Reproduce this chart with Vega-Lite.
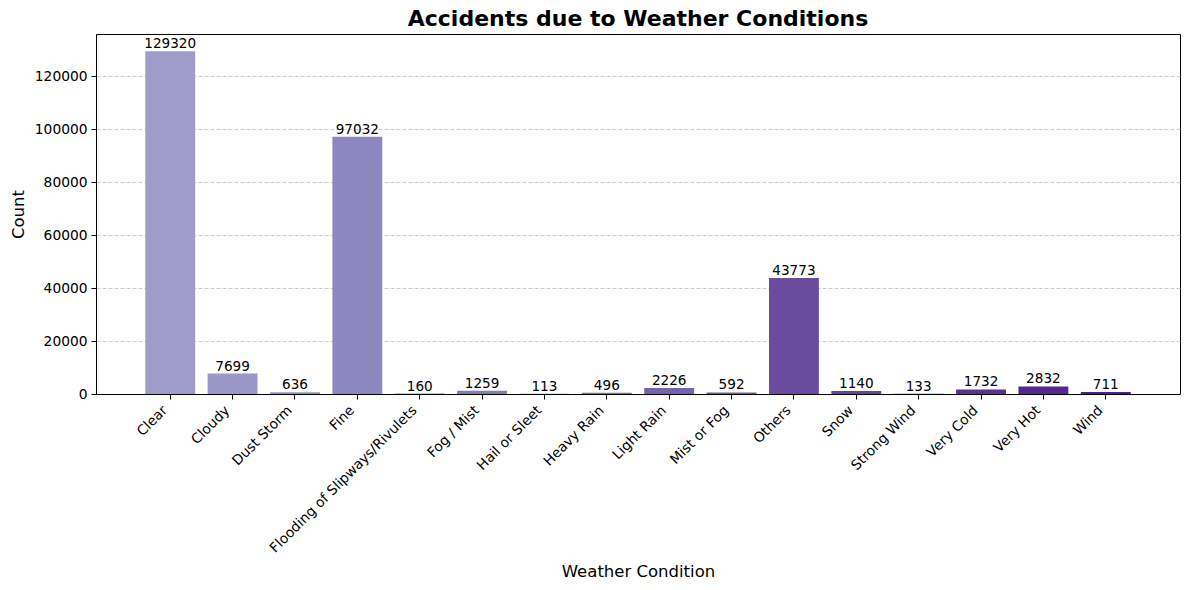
{
  "$schema": "https://vega.github.io/schema/vega-lite/v6.json",
  "autosize": {"type": "none"},
  "padding": {"left": 96, "top": 34, "right": 9, "bottom": 196},
  "width": 1084,
  "height": 360,
  "background": "white",
  "config": {
    "font": "DejaVu Sans",
    "view": {"stroke": "black", "strokeWidth": 1},
    "axis": {
      "labelFont": "DejaVu Sans",
      "titleFont": "DejaVu Sans",
      "labelFontSize": 13.8,
      "titleFontSize": 16.5,
      "titleFontWeight": "normal",
      "labelColor": "black",
      "titleColor": "black",
      "domainColor": "black",
      "tickColor": "black",
      "tickSize": 5,
      "labelPadding": 4
    }
  },
  "title": {
    "text": "Accidents due to Weather Conditions",
    "font": "DejaVu Sans",
    "fontSize": 22,
    "fontWeight": "bold",
    "color": "black",
    "anchor": "middle",
    "offset": 3
  },
  "data": {
    "values": [
      {"Weather Condition": "Clear", "Count": 129320},
      {"Weather Condition": "Cloudy", "Count": 7699},
      {"Weather Condition": "Dust Storm", "Count": 636},
      {"Weather Condition": "Fine", "Count": 97032},
      {"Weather Condition": "Flooding of Slipways/Rivulets", "Count": 160},
      {"Weather Condition": "Fog / Mist", "Count": 1259},
      {"Weather Condition": "Hail or Sleet", "Count": 113},
      {"Weather Condition": "Heavy Rain", "Count": 496},
      {"Weather Condition": "Light Rain", "Count": 2226},
      {"Weather Condition": "Mist or Fog", "Count": 592},
      {"Weather Condition": "Others", "Count": 43773},
      {"Weather Condition": "Snow", "Count": 1140},
      {"Weather Condition": "Strong Wind", "Count": 133},
      {"Weather Condition": "Very Cold", "Count": 1732},
      {"Weather Condition": "Very Hot", "Count": 2832},
      {"Weather Condition": "Wind", "Count": 711}
    ]
  },
  "encoding": {
    "x": {
      "field": "Weather Condition",
      "type": "nominal",
      "sort": null,
      "scale": {"paddingInner": 0.2, "paddingOuter": 0.79},
      "axis": {
        "title": "Weather Condition",
        "labelAngle": -45,
        "labelAlign": "right",
        "labelBaseline": "top",
        "labelLimit": 400,
        "labelOffset": -10,
        "titleY": 182,
        "titleBaseline": "alphabetic"
      }
    },
    "y": {
      "field": "Count",
      "type": "quantitative",
      "scale": {"domain": [0, 135850], "nice": false},
      "axis": {
        "title": "Count",
        "format": "d",
        "values": [0, 20000, 40000, 60000, 80000, 100000, 120000],
        "grid": true,
        "gridColor": "#c0c0c0",
        "gridDash": [4, 2],
        "gridWidth": 0.8,
        "titleX": -78,
        "titleY": 180,
        "titleBaseline": "middle",
        "titleAlign": "center"
      }
    }
  },
  "layer": [
    {
      "mark": {"type": "bar"},
      "encoding": {
        "color": {
          "field": "Weather Condition",
          "type": "nominal",
          "legend": null,
          "scale": {
            "domain": ["Clear", "Cloudy", "Dust Storm", "Fine", "Flooding of Slipways/Rivulets", "Fog / Mist", "Hail or Sleet", "Heavy Rain", "Light Rain", "Mist or Fog", "Others", "Snow", "Strong Wind", "Very Cold", "Very Hot", "Wind"],
            "range": ["#a09cc9", "#9a96c6", "#9490c3", "#8c88bf", "#8884bd", "#827eba", "#7c76b6", "#786eb1", "#7464ac", "#6f5aa6", "#6a4c9f", "#65449c", "#603a97", "#5b3192", "#55288e", "#4f1f8b"]
          }
        }
      }
    },
    {
      "mark": {"type": "text", "baseline": "alphabetic", "dy": -3, "fontSize": 13.6, "color": "black", "font": "DejaVu Sans"},
      "encoding": {
        "text": {"field": "Count", "type": "quantitative", "format": "d"}
      }
    }
  ]
}
